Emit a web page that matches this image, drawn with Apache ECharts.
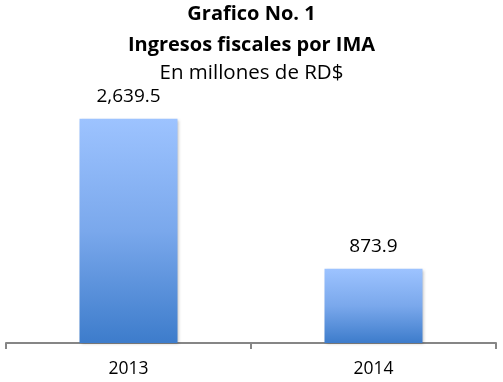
<!DOCTYPE html>
<html><head><meta charset="utf-8">
<script src="https://cdn.jsdelivr.net/npm/echarts@6/dist/echarts.min.js"></script>
<style>html,body{margin:0;padding:0;background:#fff}#c{width:503px;height:382px}</style>
</head><body><div id="c"></div>
<script>
var categories = ['2013', '2014'];
var values = [2639.5, 873.9];
var valueLabels = ['2,639.5', '873.9'];
var titleLines = ['Grafico No. 1', 'Ingresos fiscales por IMA', 'En millones de RD$'];

var chart = echarts.init(document.getElementById('c'));
var font = '"Open Sans", "Noto Sans", sans-serif';
chart.setOption({
  animation: false,
  title: [
    {text: titleLines[0], left: 'center', top: -1, textStyle: {fontFamily: font, fontSize: 20, fontWeight: 'bold', color: '#000'}},
    {text: titleLines[1], left: 'center', top: 30, textStyle: {fontFamily: font, fontSize: 20, fontWeight: 'bold', color: '#000'}},
    {text: titleLines[2], left: 'center', top: 58, textStyle: {fontFamily: font, fontSize: 20.5, fontWeight: 'normal', color: '#000'}}
  ],
  grid: {left: 6, right: 7, top: 88, bottom: 39},
  xAxis: {
    type: 'category', data: categories,
    axisLine: {lineStyle: {color: '#868686', width: 2}},
    axisTick: {show: true, length: 6, lineStyle: {color: '#868686', width: 2}},
    axisLabel: {fontFamily: font, fontSize: 17.5, color: '#000', margin: 17}
  },
  yAxis: {type: 'value', min: 0, max: 3000, show: false, splitLine: {show: false}},
  series: [{
    type: 'bar', data: values, barWidth: 98,
    itemStyle: {
      color: new echarts.graphic.LinearGradient(0, 0, 0, 1, [
        {offset: 0, color: '#9DC3FF'},
        {offset: 0.5, color: '#7AA8EC'},
        {offset: 1, color: '#3D7CCB'}
      ]),
      shadowColor: 'rgba(0,0,0,0.25)', shadowBlur: 3, shadowOffsetX: 1, shadowOffsetY: 1
    },
    label: {
      show: true, position: 'top', distance: 13,
      fontFamily: font, fontSize: 19, color: '#000',
      formatter: function (p) { return valueLabels[p.dataIndex]; }
    }
  }]
});
</script></body></html>
